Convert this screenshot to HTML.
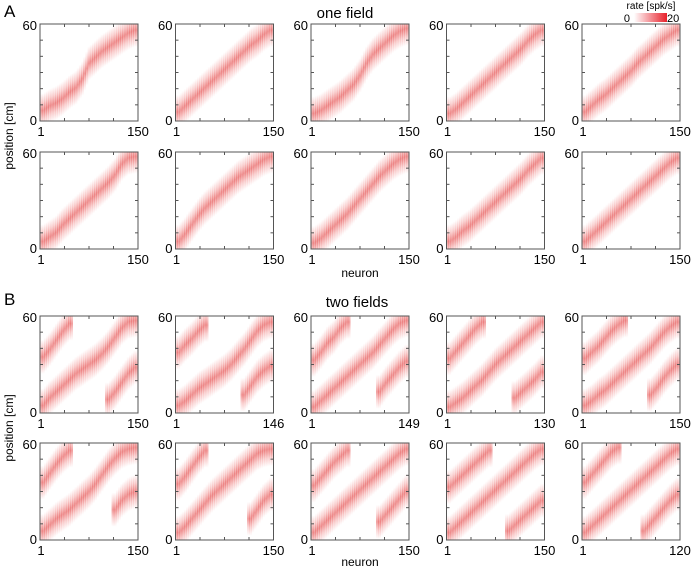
<!DOCTYPE html>
<html><head><meta charset="utf-8"><style>
body{margin:0;background:#fff;}
svg{display:block;font-family:"Liberation Sans",Arial,sans-serif;}
</style></head><body>
<svg id="fig" width="691" height="574" viewBox="0 0 691 574" xmlns="http://www.w3.org/2000/svg">
<defs id="defs">
<linearGradient id="vg" x1="0" y1="0" x2="0" y2="1">
<stop offset="0" stop-color="#e8403f" stop-opacity="0"/>
<stop offset="0.25" stop-color="#e8403f" stop-opacity="0.2"/>
<stop offset="0.5" stop-color="#e23a3a" stop-opacity="0.5"/>
<stop offset="0.75" stop-color="#e8403f" stop-opacity="0.2"/>
<stop offset="1" stop-color="#e8403f" stop-opacity="0"/>
</linearGradient>
<linearGradient id="cb" x1="0" y1="0" x2="1" y2="0">
<stop offset="0" stop-color="#e8202a" stop-opacity="0"/>
<stop offset="1" stop-color="#e8202a" stop-opacity="1"/>
</linearGradient>
</defs>
<g id="panels"></g>
<text x="4" y="17" font-size="17">A</text>
<text x="4" y="305" font-size="17">B</text>
<text x="345" y="18" font-size="15" text-anchor="middle">one field</text>
<text x="357" y="307" font-size="15" text-anchor="middle">two fields</text>
<text x="360" y="277" font-size="12" text-anchor="middle">neuron</text>
<text x="360" y="566" font-size="12" text-anchor="middle">neuron</text>
<text transform="translate(13,136) rotate(-90)" font-size="12" text-anchor="middle">position [cm]</text>
<text transform="translate(13,428) rotate(-90)" font-size="12" text-anchor="middle">position [cm]</text>
<g>
<text x="651" y="9" font-size="10" text-anchor="middle">rate [spk/s]</text>
<rect x="634" y="13" width="33" height="9" fill="url(#cb)"/>
<text x="630" y="22" font-size="11" text-anchor="end">0</text>
<text x="667" y="22" font-size="11">20</text>
</g>
</svg>
<script>
const ySpan = [0, 60];
const neuronCounts = [150,150,150,150,150,150,150,150,150,150,150,146,149,130,150,150,150,150,150,120];
const field1 = [
[5,8,10,13,17,20,26,36,40,44,47,50,53,56,58],
[4,8,12,16,20,24,28,32,36,40,44,48,51,55,58],
[3,5,8,11,14,18,22,28,36,42,46,50,54,57,59],
[3,6,10,14,18,22,26,30,34,38,42,46,51,55,58],
[4,8,12,15,19,23,27,31,36,40,44,48,52,55,58],
[3,6,9,14,18,22,26,30,34,38,42,47,54,58,59],
[3,8,14,20,25,29,33,37,41,45,48,51,54,57,59],
[2,5,9,13,17,21,26,31,36,41,46,50,54,57,59],
[3,6,10,13,17,21,25,29,33,37,41,45,50,54,58],
[3,7,11,15,19,23,27,31,35,39,43,47,51,55,58],
[3,8,12,16,20,24,27,30,33,37,42,48,54,58,59],
[3,6,10,14,17,20,23,26,30,35,40,46,52,56,58],
[2,6,10,14,18,22,26,30,34,38,43,48,53,57,59],
[2,5,8,12,16,20,25,30,34,38,42,46,50,54,58],
[3,6,10,13,17,21,25,29,33,37,41,46,51,55,58],
[4,8,12,15,18,22,26,30,35,41,47,52,56,58,59],
[3,7,12,17,22,27,31,35,39,43,47,51,55,57,58],
[3,7,11,15,19,23,27,31,35,39,43,47,51,55,58],
[3,7,11,15,19,23,27,31,35,39,43,47,51,55,58],
[3,7,11,15,19,23,27,31,35,39,43,47,51,55,58]
];
const field2 = [
null,null,null,null,null,null,null,null,null,null,
[35,40,46,52,57,null,null,null,null,null,7,12,18,24,28],
[38,43,47,52,56,null,null,null,null,null,10,16,22,26,29],
[33,38,44,48,54,58,null,null,null,null,12,18,23,28,32],
[34,39,44,49,54,58,null,null,null,null,8,12,16,20,25],
[34,38,42,47,52,56,59,null,null,null,10,15,21,26,30],
[36,42,48,53,57,null,null,null,null,null,null,18,24,28,30],
[35,40,46,52,57,null,null,null,null,null,null,12,18,24,28],
[34,39,44,49,53,57,null,null,null,null,10,15,20,25,30],
[33,37,41,45,49,53,57,null,null,4,8,12,16,20,24],
[36,41,46,51,56,59,null,null,null,4,9,14,19,24,28]
];
const colX = [40,175.5,311,446.5,582];
const rowY = [24,152,316,443];
const W = 98, H = 97;
const NS = 'http://www.w3.org/2000/svg';
const root = document.getElementById('panels');
const defs = document.getElementById('defs');
function mk(tag, attrs, parent){const e=document.createElementNS(NS,tag);for(const k in attrs)e.setAttribute(k,attrs[k]);parent.appendChild(e);return e;}
for(let p=0;p<20;p++){
  const x0 = colX[p%5], y0 = rowY[Math.floor(p/5)];
  const cp = mk('clipPath',{id:'cp'+p},defs);
  mk('rect',{x:x0,y:y0,width:W,height:H},cp);
  const g = mk('g',{},root);
  
  
  const hm = mk('g',{'clip-path':'url(#cp'+p+')'},g);
  const yScale = v => y0 + H - 3 - (v-ySpan[0])/(ySpan[1]-ySpan[0])*(H-6);
  const n = field1[p].length;
  const cw = W/n;
  const fh = 34;
  const series = [field1[p]].concat(field2[p]?[field2[p]]:[]);
  series.forEach(arr=>{
    for(let i=0;i<n;i++){
      const v = arr[i];
      if(v===null) continue;
      for(let s=0;s<3;s++){
        const f = (s-1)/3;
        const nb = f<0 ? arr[i-1] : arr[i+1];
        const vv = (nb!==undefined && nb!==null) ? v + (nb-v)*Math.abs(f) : v;
        const r = mk('rect',{x:x0+i*cw+s*cw/3-0.3,y:yScale(vv)-fh/2,width:cw/3+0.6,height:fh,fill:'url(#vg)'},hm);
        
        
      }
    }
  });
  const fr = mk('rect',{x:x0,y:y0,width:W,height:H,fill:'none',stroke:'#555','stroke-width':1},g);
  
  
  for(let k=1;k<6;k++){const yy=y0+k*H/6;mk('line',{x1:x0,x2:x0+3,y1:yy,y2:yy,stroke:'#555'},g);mk('line',{x1:x0+W,x2:x0+W-3,y1:yy,y2:yy,stroke:'#555'},g);}
  for(let k=1;k<4;k++){const xx=x0+k*W/4;mk('line',{x1:xx,x2:xx,y1:y0,y2:y0+3,stroke:'#555'},g);mk('line',{x1:xx,x2:xx,y1:y0+H,y2:y0+H-3,stroke:'#555'},g);}
  const t1=mk('text',{x:x0-3,y:y0+6,'font-size':13,'text-anchor':'end'},g);t1.textContent='60';
  
  
  const t2=mk('text',{x:x0-3,y:y0+H+4,'font-size':13,'text-anchor':'end'},g);t2.textContent='0';
  
  
  const t3=mk('text',{x:x0+1,y:y0+H+15,'font-size':13,'text-anchor':'middle'},g);t3.textContent='1';
  
  
  const t4=mk('text',{x:x0+W,y:y0+H+15,'font-size':13,'text-anchor':'middle'},g);t4.textContent=String(neuronCounts[p]);
  
  
}
</script>
</body></html>
